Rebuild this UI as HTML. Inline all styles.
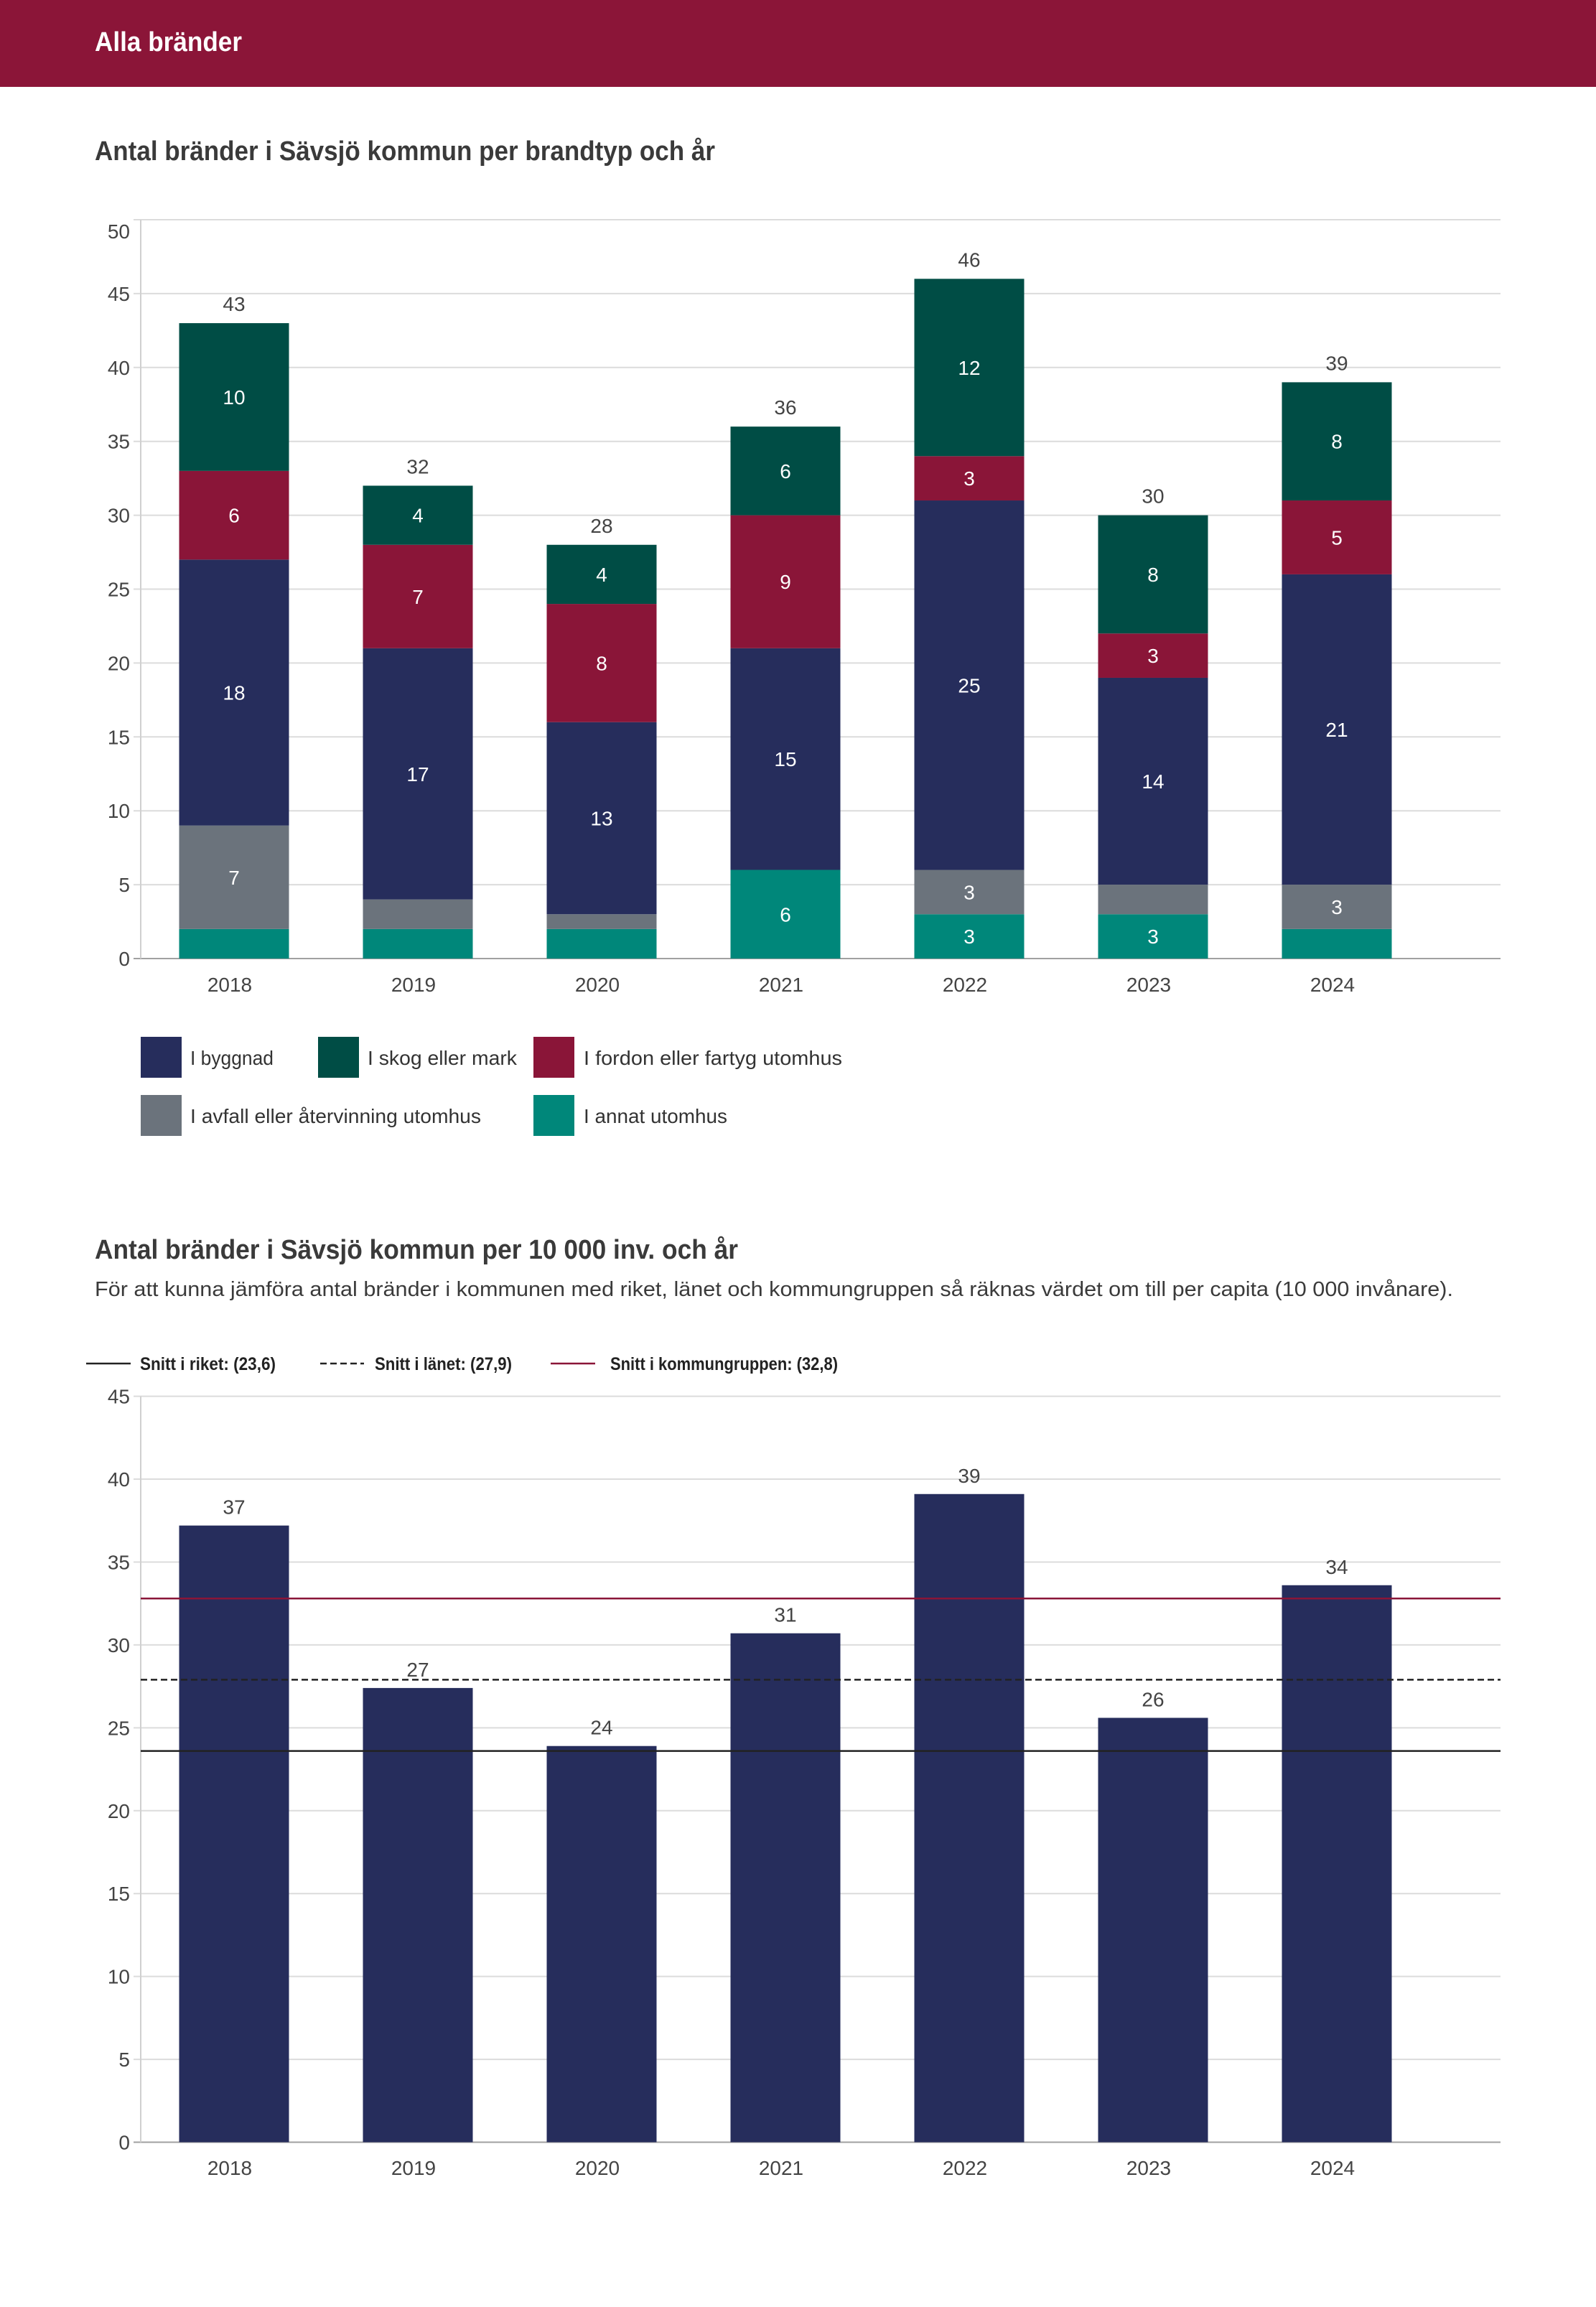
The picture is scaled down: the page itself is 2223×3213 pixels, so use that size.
<!DOCTYPE html>
<html><head><meta charset="utf-8"><style>
html,body{margin:0;padding:0;background:#fff;}
svg{display:block;font-family:"Liberation Sans",sans-serif;}
</style></head><body>
<svg id="page" width="2223" height="3213" viewBox="0 0 2223 3213" xmlns="http://www.w3.org/2000/svg">
<rect x="0" y="0" width="2223" height="121" fill="#8B1538"/>
<text x="132" y="71" font-size="38" font-weight="bold" fill="#fff" textLength="205" lengthAdjust="spacingAndGlyphs">Alla bränder</text>
<text x="132" y="223" font-size="38" font-weight="bold" fill="#3a3a3a" textLength="864" lengthAdjust="spacingAndGlyphs">Antal bränder i Sävsjö kommun per brandtyp och år</text>
<g id="c1"></g>
<g id="leg1"></g>
<text x="132" y="1753" font-size="38" font-weight="bold" fill="#3a3a3a" textLength="896" lengthAdjust="spacingAndGlyphs">Antal bränder i Sävsjö kommun per 10 000 inv. och år</text>
<text x="132" y="1805" font-size="29" fill="#3a3a3a" textLength="1892" lengthAdjust="spacingAndGlyphs">För att kunna jämföra antal bränder i kommunen med riket, länet och kommungruppen så räknas värdet om till per capita (10 000 invånare).</text>
<g id="leg2"></g>
<g id="c2"></g>
</svg>
<script>
const years = ["2018","2019","2020","2021","2022","2023","2024"];
const seriesNames = ["I annat utomhus","I avfall eller återvinning utomhus","I byggnad","I fordon eller fartyg utomhus","I skog eller mark"];
const annat   = [2,2,2,6,3,3,2];
const avfall  = [7,2,1,0,3,2,3];
const byggnad = [18,17,13,15,25,14,21];
const fordon  = [6,7,8,9,3,3,5];
const skog    = [10,4,4,6,12,8,8];
const ticks1 = [0,5,10,15,20,25,30,35,40,45,50];
const perCapita = [37.2,27.4,23.9,30.7,39.1,25.6,33.6];
const ticks2 = [0,5,10,15,20,25,30,35,40,45];
const refNames = ["Snitt i riket: (23,6)","Snitt i länet: (27,9)","Snitt i kommungruppen: (32,8)"];
const refValues = [23.6,27.9,32.8];

const NS="http://www.w3.org/2000/svg";
function mk(parent,tag,attrs,text){const e=document.createElementNS(NS,tag);for(const k in attrs)e.setAttribute(k,attrs[k]);if(text!==undefined)e.textContent=text;parent.appendChild(e);return e;}
const colors=["#00877A","#6B737C","#262D5C","#8A1538","#004D45"];
const axL=196, axR=2090, band=256, barW=153;
const xc=i=>axL+130+i*band;

// Chart 1
const c1=document.getElementById('c1');
const y1=v=>1335-(v/50)*(1335-306);
const top1=ticks1[ticks1.length-1];
ticks1.forEach(t=>{
  const l=mk(c1,'line',{x1:186,x2:axR,y1:y1(t),y2:y1(t),stroke:t===0?'#a0a0a0':'#dcdcdc','stroke-width':2});
  
  
  const tx=mk(c1,'text',{x:181,y:y1(t)+(t===top1?26:10),'text-anchor':'end','font-size':28,fill:'#444'},String(t));
  
  
});
mk(c1,'line',{x1:axL,x2:axL,y1:306,y2:1335,stroke:'#d0d0d0','stroke-width':2});
const stacks=[annat,avfall,byggnad,fordon,skog];
years.forEach((yr,i)=>{
  let base=0;
  stacks.forEach((s,k)=>{
    const v=s[i]; if(v<=0) return;
    const r=mk(c1,'rect',{x:xc(i)-barW/2,y:y1(base+v),width:barW,height:y1(base)-y1(base+v),fill:colors[k]});
    
    
    if(v>=3){const t=mk(c1,'text',{x:xc(i),y:(y1(base)+y1(base+v))/2+10,'text-anchor':'middle','font-size':28,fill:'#fff'},String(v));
      
      }
    base+=v;
  });
  const tt=mk(c1,'text',{x:xc(i),y:y1(base)-17,'text-anchor':'middle','font-size':28,fill:'#444'},String(base));
  
  
  const xl=mk(c1,'text',{x:xc(i)-6,y:1381,'text-anchor':'middle','font-size':28,fill:'#444'},yr);
  
  
});

// Legend 1
const leg1=document.getElementById('leg1');
const legItems=[[2,196,1444,265,116],[4,443,1444,512,208],[3,743,1444,813,360],[1,196,1525,265,405],[0,743,1525,813,200]];
legItems.forEach(it=>{
  const r=mk(leg1,'rect',{x:it[1],y:it[2],width:57,height:57,fill:colors[it[0]]});
  
  
  const t=mk(leg1,'text',{x:it[3],y:it[2]+39,'font-size':28,fill:'#333',textLength:it[4],lengthAdjust:'spacingAndGlyphs'},seriesNames[it[0]]);
  
  
});

// Legend 2
const leg2=document.getElementById('leg2');
const refStyles=[{stroke:'#222',dash:''},{stroke:'#222',dash:'9,5'},{stroke:'#8A1538',dash:''}];
const legX=[[120,182,195,189],[446,507,522,191],[767,829,850,317]];
refNames.forEach((n,k)=>{
  const l=mk(leg2,'line',{x1:legX[k][0],x2:legX[k][1],y1:1899,y2:1899,stroke:refStyles[k].stroke,'stroke-width':2.5,'stroke-dasharray':refStyles[k].dash});
  
  
  const t=mk(leg2,'text',{x:legX[k][2],y:1908,'font-size':25,'font-weight':'bold',fill:'#222',textLength:legX[k][3],lengthAdjust:'spacingAndGlyphs'},n);
  
  
});

// Chart 2
const c2=document.getElementById('c2');
const y2=v=>2983.5-(v/40)*(2983.5-2060);
ticks2.forEach(t=>{
  const l=mk(c2,'line',{x1:186,x2:axR,y1:y2(t),y2:y2(t),stroke:t===0?'#a0a0a0':'#dcdcdc','stroke-width':2});
  
  
  const tx=mk(c2,'text',{x:181,y:y2(t)+10,'text-anchor':'end','font-size':28,fill:'#444'},String(t));
  
  
});
mk(c2,'line',{x1:axL,x2:axL,y1:y2(45),y2:y2(0),stroke:'#d0d0d0','stroke-width':2});
years.forEach((yr,i)=>{
  const v=perCapita[i];
  const r=mk(c2,'rect',{x:xc(i)-barW/2,y:y2(v),width:barW,height:y2(0)-y2(v),fill:'#262D5C'});
  
  
  const t=mk(c2,'text',{x:xc(i),y:y2(v)-16,'text-anchor':'middle','font-size':28,fill:'#444'},String(Math.round(v)));
  
  
  const xl=mk(c2,'text',{x:xc(i)-6,y:3029,'text-anchor':'middle','font-size':28,fill:'#444'},yr);
  
  
});
refValues.forEach((v,k)=>{
  const l=mk(c2,'line',{x1:axL,x2:axR,y1:y2(v),y2:y2(v),stroke:refStyles[k].stroke,'stroke-width':2.5,'stroke-dasharray':refStyles[k].dash});
  
  
});
</script>
</body></html>
